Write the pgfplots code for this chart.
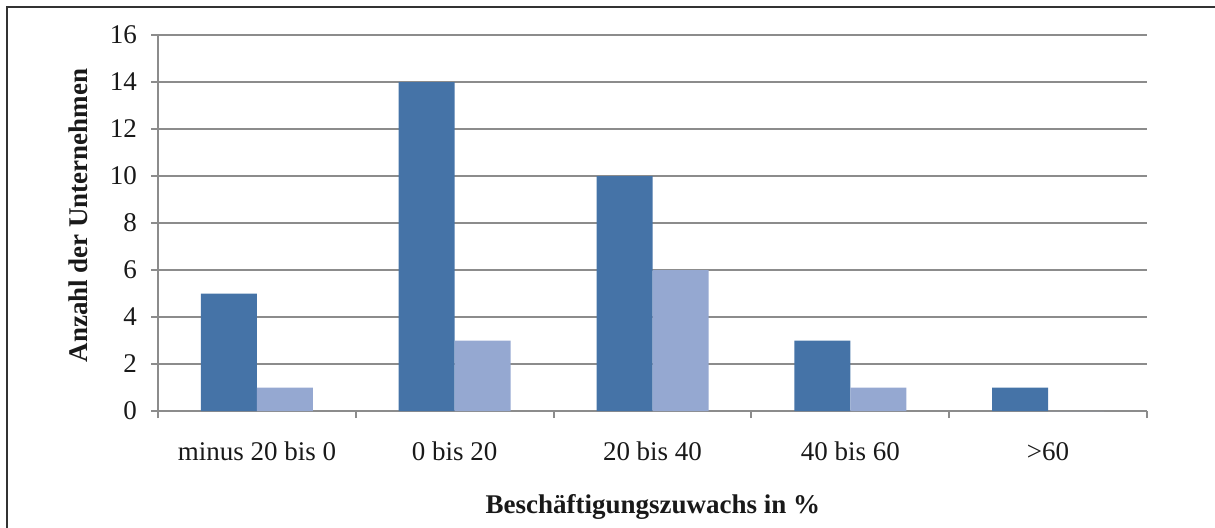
\documentclass[border=0pt]{standalone}
\usepackage{pgfplots}
\pgfplotsset{compat=1.18}
\usepackage{fontspec}
\setmainfont{Liberation Serif}
\definecolor{dunkel}{HTML}{4573A7}
\definecolor{hell}{HTML}{95A8D1}
\definecolor{gitter}{HTML}{8C8C8C}
\begin{document}
\begin{tikzpicture}
\useasboundingbox (0,0) rectangle (607.5pt,-263.5pt);
\draw[line width=1pt,color=black!80] (3.5pt,-270pt) -- (3.5pt,-3.5pt) -- (612pt,-3.5pt);
\begin{axis}[
    at={(79pt,-205.5pt)}, anchor=south west,
    scale only axis,
    width=494.5pt, height=188pt,
    ybar=0pt, bar width=28pt,
    xmin=-0.5, xmax=4.5,
    ymin=0, ymax=16,
    xtick={0,1,2,3,4},
    xticklabels={minus 20 bis 0, 0 bis 20, 20 bis 40, 40 bis 60, >60},
    minor xtick={-0.5,0.5,1.5,2.5,3.5,4.5},
    ytick={0,2,...,16},
    axis x line*=bottom, axis y line*=left,
    axis line style={gitter, line width=1pt},
    tick align=outside,
    major x tick style={draw=none},
    minor x tick style={gitter, line width=1pt},
    major y tick style={gitter, line width=1pt},
    minor tick length=3.5pt, major tick length=3.5pt,
    ymajorgrids, major grid style={gitter, line width=1pt},
    /pgf/number format/assume math mode=true,
    tick label style={font=\fontsize{13.5}{16}\selectfont, text=black!90},
    xticklabel style={yshift=-8.5pt},
    yticklabel style={xshift=-3.5pt},
    label style={font=\bfseries\fontsize{13.5}{16}\selectfont, text=black!90},
    xlabel={Beschäftigungszuwachs in \%},
    ylabel={Anzahl der Unternehmen},
    xlabel style={at={(axis description cs:0.5005,-0.255)}, anchor=center},
    ylabel style={at={(axis description cs:-0.0809,0.52)}, anchor=center},
    clip=false,
]
\addplot[draw=none, fill=dunkel] coordinates {(0,5) (1,14) (2,10) (3,3) (4,1)};
\addplot[draw=none, fill=hell] coordinates {(0,1) (1,3) (2,6) (3,1) (4,0)};
\end{axis}
\end{tikzpicture}
\end{document}
